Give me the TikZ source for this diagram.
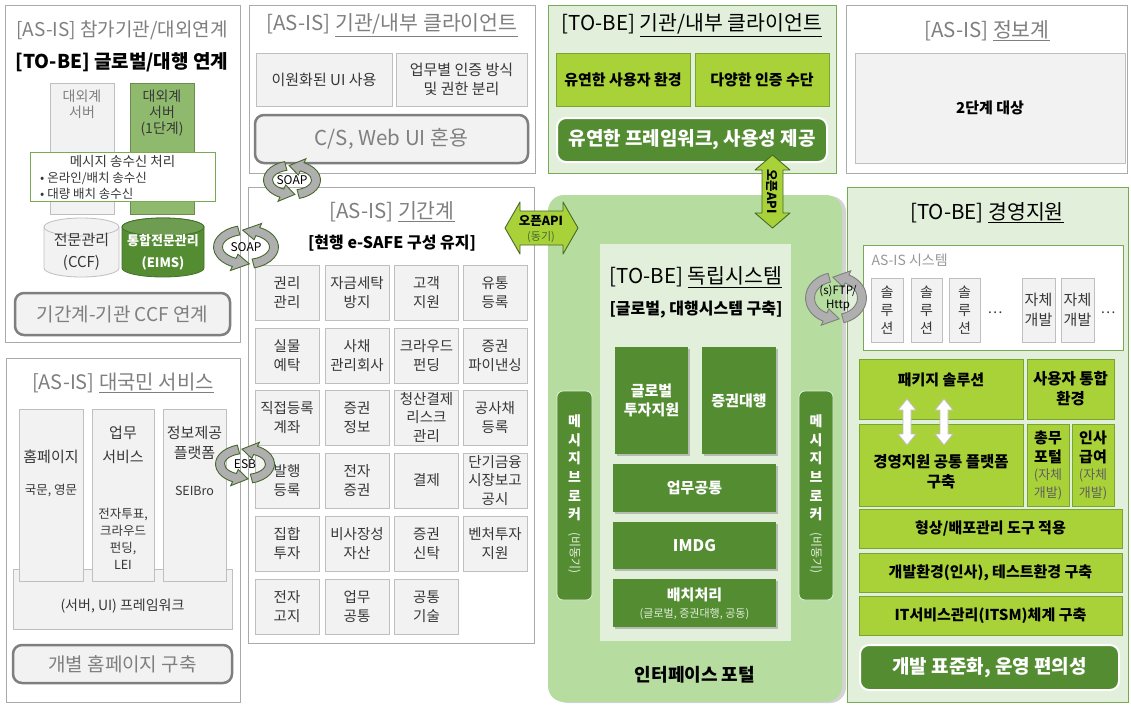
\documentclass[tikz,border=0pt]{standalone}
\usepackage{fontspec}
\setmainfont{Noto Sans CJK KR}
\usetikzlibrary{positioning, shapes.geometric, shadows}
\definecolor{boxgray}{RGB}{242,242,242}
\definecolor{linegray}{RGB}{191,191,191}
\definecolor{panelgray}{RGB}{170,170,170}
\definecolor{titlegray}{RGB}{127,127,127}
\definecolor{textdark}{RGB}{55,55,55}
\definecolor{palegreen}{RGB}{226,239,218}
\definecolor{panelgreen}{RGB}{120,170,85}
\definecolor{lime}{RGB}{169,209,56}
\definecolor{limeline}{RGB}{120,165,50}
\definecolor{darkgreen}{RGB}{84,140,50}
\definecolor{midgreen}{RGB}{143,186,110}
\definecolor{portalgreen}{RGB}{182,220,160}
\definecolor{ringgreen}{RGB}{70,105,45}
\definecolor{ringfill}{RGB}{175,175,175}
\newcommand{\fs}[2]{\fontsize{#1}{#2}\selectfont}
% cycle arrow: center, x radius, y radius, half band, line colour
\newcommand{\ringarrow}[5]{%
  \begin{scope}[shift={#1}]
  \pgfmathsetmacro{\rxo}{#2+#4}\pgfmathsetmacro{\ryo}{#3+#4}
  \pgfmathsetmacro{\rxi}{#2-#4}\pgfmathsetmacro{\ryi}{#3-#4}
  \pgfmathsetmacro{\rxh}{#2+2*#4}\pgfmathsetmacro{\ryh}{#3+2*#4}
  \pgfmathsetmacro{\rxk}{#2-2*#4}\pgfmathsetmacro{\ryk}{#3-2*#4}
  \filldraw[fill=ringfill, draw=#5, line width=0.9pt] (-75:\rxo pt and \ryo pt) arc[start angle=-75, end angle=65, x radius=\rxo pt, y radius=\ryo pt] -- (65:\rxh pt and \ryh pt) -- (97:#2pt and #3pt) -- (65:\rxk pt and \ryk pt) -- (65:\rxi pt and \ryi pt) arc[start angle=65, end angle=-75, x radius=\rxi pt, y radius=\ryi pt] -- cycle;
  \filldraw[fill=ringfill, draw=#5, line width=0.9pt] (105:\rxo pt and \ryo pt) arc[start angle=105, end angle=245, x radius=\rxo pt, y radius=\ryo pt] -- (245:\rxh pt and \ryh pt) -- (277:#2pt and #3pt) -- (245:\rxk pt and \ryk pt) -- (245:\rxi pt and \ryi pt) arc[start angle=245, end angle=105, x radius=\rxi pt, y radius=\ryi pt] -- cycle;
  \end{scope}}
\tikzset{
  panel/.style={draw=panelgray, fill=white, line width=0.9pt},
  greenpanel/.style={draw=panelgreen, fill=palegreen, line width=1pt},
  graybox/.style={draw=linegray, fill=boxgray, line width=0.8pt, align=center, text=textdark, inner sep=0pt},
  cell/.style={graybox, minimum width=64, minimum height=55, font=\fs{14.5}{18.5}},
  limebox/.style={draw=limeline, fill=lime, line width=0.8pt, align=center, inner sep=0pt, font=\bfseries\fs{15}{19}},
  darkbox/.style={fill=darkgreen, text=white, align=center, inner sep=0pt, font=\bfseries\fs{15}{19},
    drop shadow={shadow xshift=2pt, shadow yshift=-2pt, opacity=0.45}},
  roundgray/.style={draw=titlegray, line width=2.5pt, rounded corners=9pt, fill=boxgray, text=titlegray},
  rounddark/.style={draw=white, line width=2pt, rounded corners=9pt, fill=darkgreen, text=white, font=\bfseries\fs{19}{23}},
  grayhead/.style={text=titlegray, font=\fs{20.5}{24}},
  blackhead/.style={text=black, font=\fs{20.5}{24}},
  apiarrow/.style={fill=lime, draw=ringgreen, line width=0.9pt, line join=round},
  whitearrow/.style={fill=white, draw=linegray, line width=0.8pt},
}
\begin{document}
\begin{tikzpicture}[x=1pt,y=-1pt]
\useasboundingbox (0,0) rectangle (1131,704);

% ---- 참가기관/대외연계
\node[panel, minimum width=235, minimum height=337] (pnlext) at (122.5,173.5) {};
\node[grayhead, font=\fs{19}{23}] (extasis) at (122,30) {[AS-IS] 참가기관/대외연계};
\node[blackhead, font=\bfseries\fs{19}{23}] (exttobe) at (122,62) {[TO-BE] 글로벌/대행 연계};
\node[graybox, minimum width=64, minimum height=131] (srvold) at (82,148.5) {};
\node[graybox, fill=midgreen, draw=midgreen!75!black, minimum width=64, minimum height=131] (srvnew) at (162,148.5) {};
\node[align=center, text=titlegray, font=\fs{14}{16}, below=4pt of srvold.north] (srvoldtxt) {대외계\\서버};
\node[align=center, text=textdark, font=\fs{14}{16}, below=4pt of srvnew.north] (srvnewtxt) {대외계\\서버\\(1단계)};
\node[draw=panelgreen, fill=white, line width=0.9pt, minimum width=185, minimum height=49] (msgbox) at (122.5,176.5) {};
\node[text=textdark, font=\fs{13.5}{16}] (msgtitle) at (122.5,161) {메시지 송수신 처리};
\node[text=textdark, align=left, anchor=north west, font=\fs{12.5}{15.5}, inner sep=0pt] (msglist) at (40,172) {• 온라인/배치 송수신\\• 대량 배치 송수신};
% database drums
\node[minimum width=75, minimum height=59] (ccfdb) at (81.5,247.5) {};
\filldraw[fill=boxgray, draw=linegray, line width=0.8pt] (44,227) -- (44,268) arc[start angle=180, end angle=360, x radius=37.5pt, y radius=9pt] -- (119,227) arc[start angle=0, end angle=180, x radius=37.5pt, y radius=9pt] -- cycle;
\draw[linegray, line width=0.8pt] (44,227) arc[start angle=180, end angle=360, x radius=37.5pt, y radius=9pt];
\node[minimum width=82, minimum height=59] (eimsdb) at (163,247.5) {};
\filldraw[fill=darkgreen, draw=darkgreen!80!black, line width=0.8pt] (122,227) -- (122,268) arc[start angle=180, end angle=360, x radius=41pt, y radius=9pt] -- (204,227) arc[start angle=0, end angle=180, x radius=41pt, y radius=9pt] -- cycle;
\filldraw[fill=darkgreen!85!white, draw=darkgreen!80!black, line width=0.8pt] (163,227) ellipse[x radius=41pt, y radius=9pt];
\node[align=center, text=textdark, font=\fs{15}{22}] (ccftxt) at (81.5,252) {전문관리\\(CCF)};
\node[align=center, text=white, font=\bfseries\fs{13}{22}] (eimstxt) at (163,252) {통합전문관리\\(EIMS)};
\node[roundgray, minimum width=215, minimum height=42, font=\fs{19}{23}] (ccflink) at (122.5,314) {기간계-기관 CCF 연계};

% ---- 기관/내부 클라이언트 (AS-IS)
\node[panel, minimum width=286, minimum height=168] (pnlcli) at (392,89) {};
\node[grayhead] (cliasis) at (392,25) {[AS-IS] \underline{기관/내부 클라이언트}};
\node[graybox, minimum width=136, minimum height=53, font=\fs{15}{19}] (dualui) at (324,79.5) {이원화된 UI 사용};
\node[graybox, minimum width=131, minimum height=53, font=\fs{15}{19}] (authsep) at (461.5,79.5) {업무별 인증 방식\\및 권한 분리};
\node[roundgray, minimum width=273, minimum height=48, font=\fs{20.5}{24}] (mixui) at (391.5,139) {C/S, Web UI 혼용};

% ---- 기관/내부 클라이언트 (TO-BE)
\node[greenpanel, minimum width=288, minimum height=168] (pnlclinew) at (692,89) {};
\node[blackhead] (clitobe) at (692,25) {[TO-BE] \underline{기관/내부 클라이언트}};
\node[limebox, minimum width=134, minimum height=53] (flexenv) at (623,79.5) {유연한 사용자 환경};
\node[limebox, minimum width=134, minimum height=53] (multiauth) at (762,79.5) {다양한 인증 수단};
\node[rounddark, minimum width=270, minimum height=44] (flexfw) at (692,140) {유연한 프레임워크, 사용성 제공};

% ---- 정보계
\node[panel, minimum width=281, minimum height=168] (pnlinfo) at (986.5,89) {};
\node[grayhead] (infoasis) at (987,31) {[AS-IS] \underline{정보계}};
\node[graybox, text=black, minimum width=270, minimum height=110, font=\bfseries\fs{15}{19}] (stage2) at (990,108) {2단계 대상};

% ---- 대국민 서비스
\node[panel, minimum width=234, minimum height=344] (pnlpub) at (123,530) {};
\node[grayhead, font=\fs{20}{24}] (pubasis) at (123,383) {[AS-IS] \underline{대국민 서비스}};
\node[graybox, minimum width=219, minimum height=60] (pubfw) at (122.5,599) {};
\node[graybox, minimum width=64, minimum height=172] (homecol) at (51,495) {};
\node[graybox, minimum width=62, minimum height=172] (svccol) at (123,495) {};
\node[graybox, minimum width=63, minimum height=172] (infocol) at (194.5,495) {};
\node[text=textdark, font=\fs{15}{18}] (hometxt) at (51,457) {홈페이지};
\node[text=textdark, font=\fs{12.5}{16}] (homesub) at (51,491) {국문, 영문};
\node[text=textdark, align=center, font=\fs{15}{24}] (svctxt) at (123,445) {업무\\서비스};
\node[text=textdark, align=center, font=\fs{12.5}{17}] (svcsub) at (123,539) {전자투표,\\크라우드\\펀딩,\\LEI};
\node[text=textdark, align=center, font=\fs{15}{20}] (infotxt) at (194.5,443) {정보제공\\플랫폼};
\node[text=textdark, font=\fs{12.5}{16}] (infosub) at (194.5,491) {SEIBro};
\node[text=textdark, font=\fs{14}{18}] (pubfwtxt) at (122.5,606) {(서버, UI) 프레임워크};
\node[roundgray, minimum width=219, minimum height=38, font=\fs{19}{23}] (homebuild) at (122.5,664) {개별 홈페이지 구축};

% ---- 기간계
\node[panel, minimum width=286, minimum height=456] (pnlcore) at (391,415) {};
\node[grayhead] (coreasis) at (392,212) {[AS-IS] \underline{기간계}};
\node[font=\bfseries\fs{16}{20}] (coresub) at (392,243) {[현행 e-SAFE 구성 유지]};
\node[cell] (g11) at (287,292.5) {권리\\관리};
\node[cell] (g12) at (357,292.5) {자금세탁\\방지};
\node[cell] (g13) at (426.5,292.5) {고객\\지원};
\node[cell] (g14) at (495,292.5) {유통\\등록};
\node[cell] (g21) at (287,355.5) {실물\\예탁};
\node[cell] (g22) at (357,355.5) {사채\\관리회사};
\node[cell] (g23) at (426.5,355.5) {크라우드\\펀딩};
\node[cell] (g24) at (495,355.5) {증권\\파이낸싱};
\node[cell] (g31) at (287,417.5) {직접등록\\계좌};
\node[cell] (g32) at (357,417.5) {증권\\정보};
\node[cell] (g33) at (426.5,417.5) {청산결제\\리스크\\관리};
\node[cell] (g34) at (495,417.5) {공사채\\등록};
\node[cell] (g41) at (287,480.5) {발행\\등록};
\node[cell] (g42) at (357,480.5) {전자\\증권};
\node[cell] (g43) at (426.5,480.5) {결제};
\node[cell] (g44) at (495,480.5) {단기금융\\시장보고\\공시};
\node[cell] (g51) at (287,543.5) {집합\\투자};
\node[cell] (g52) at (357,543.5) {비사장성\\자산};
\node[cell] (g53) at (426.5,543.5) {증권\\신탁};
\node[cell] (g54) at (495,543.5) {벤처투자\\지원};
\node[cell] (g61) at (287,606.5) {전자\\고지};
\node[cell] (g62) at (357,606.5) {업무\\공통};
\node[cell] (g63) at (426.5,606.5) {공통\\기술};

% ---- 인터페이스 포털
\node[fill=portalgreen, rounded corners=16pt, minimum width=294, minimum height=507,
  drop shadow={shadow xshift=4pt, shadow yshift=-1pt, opacity=0.35}] (portal) at (695,448.5) {};
\node[fill=palegreen, minimum width=191, minimum height=397] (indep) at (695.5,442.5) {};
\node[blackhead] (indeptobe) at (696,277) {[TO-BE] \underline{독립시스템}};
\node[font=\bfseries\fs{16}{20}] (indepsub) at (696,310) {[글로벌, 대행시스템 구축]};
\node[darkbox, minimum width=73, minimum height=107] (globinv) at (651.5,400.5) {글로벌\\투자지원};
\node[darkbox, minimum width=74, minimum height=107] (agency) at (739,400.5) {증권대행};
\node[darkbox, minimum width=163, minimum height=48] (bizcommon) at (694.5,488) {업무공통};
\node[darkbox, minimum width=163, minimum height=47, font=\bfseries\fs{16}{19}] (imdg) at (694.5,545.5) {IMDG};
\node[darkbox, minimum width=163, minimum height=48] (batch) at (694.5,603) {};
\node[text=white, font=\bfseries\fs{15}{18}] (batchtxt) at (694.5,595) {배치처리};
\node[text=palegreen, font=\fs{11}{13}] (batchsub) at (694.5,614) {(글로벌, 증권대행, 공동)};
\node[fill=darkgreen, draw=palegreen, line width=0.8pt, rounded corners=6pt, minimum width=35, minimum height=209] (brokerl) at (574.5,495.5) {};
\node[fill=darkgreen, draw=palegreen, line width=0.8pt, rounded corners=6pt, minimum width=34, minimum height=209] (brokerr) at (816,495.5) {};
\node[text=white, align=center, font=\bfseries\fs{14}{18.6}] (brokerltxt) at (574.5,468) {메\\시\\지\\브\\로\\커};
\node[text=palegreen, rotate=-90, font=\fs{12}{14}] (brokerlsub) at (574.5,553) {(비동기)};
\node[text=white, align=center, font=\bfseries\fs{14}{18.6}] (brokerrtxt) at (816,468) {메\\시\\지\\브\\로\\커};
\node[text=palegreen, rotate=-90, font=\fs{12}{14}] (brokerrsub) at (816,553) {(비동기)};
\node[font=\bfseries\fs{18}{22}] (portaltxt) at (695,675) {인터페이스 포털};

% ---- 경영지원
\node[greenpanel, minimum width=281, minimum height=515] (pnlmgmt) at (987.5,444.5) {};
\node[blackhead] (mgmttobe) at (987,213) {[TO-BE] \underline{경영지원}};
\node[draw=panelgreen, fill=white, line width=0.9pt, minimum width=260, minimum height=105] (asissys) at (993,297.5) {};
\node[text=linegray!80!black, font=\fs{14}{17}, anchor=west] (asissystxt) at (868,260) {AS-IS 시스템};
\node[graybox, minimum width=32, minimum height=64, font=\fs{14}{18}] (sol1) at (887,310) {솔\\루\\션};
\node[graybox, minimum width=31, minimum height=64, font=\fs{14}{18}] (sol2) at (926.5,310) {솔\\루\\션};
\node[graybox, minimum width=31, minimum height=64, font=\fs{14}{18}] (sol3) at (964.5,310) {솔\\루\\션};
\node[text=textdark, font=\fs{14}{17}] (soldots) at (995,313) {…};
\node[graybox, minimum width=33, minimum height=64, font=\fs{15}{20}] (own1) at (1038.5,310) {자체\\개발};
\node[graybox, minimum width=33, minimum height=64, font=\fs{15}{20}] (own2) at (1077.5,310) {자체\\개발};
\node[text=textdark, font=\fs{14}{17}] (owndots) at (1108,313) {…};
\node[limebox, minimum width=164, minimum height=60] (pkg) at (941,389) {};
\node[font=\bfseries\fs{15}{19}] (pkgtxt) at (941,380) {패키지 솔루션};
\node[limebox, minimum width=87, minimum height=60, font=\bfseries\fs{15.5}{20}] (userenv) at (1070.5,389) {사용자 통합\\환경};
\node[limebox, minimum width=164, minimum height=82] (mgmtplat) at (941,465) {};
\node[align=center, font=\bfseries\fs{15.5}{20}] (mgmtplattxt) at (941,472) {경영지원 공통 플랫폼\\구축};
\node[limebox, minimum width=42, minimum height=82] (genaff) at (1048,465) {};
\node[limebox, minimum width=42, minimum height=82] (hrpay) at (1093,465) {};
\node[align=center, font=\bfseries\fs{15}{18.5}] (genafftxt) at (1048,447.5) {총무\\포털};
\node[align=center, text=textdark!80, font=\fs{13}{18}] (genaffsub) at (1048,484) {(자체\\개발)};
\node[align=center, font=\bfseries\fs{15}{18.5}] (hrpaytxt) at (1093,447.5) {인사\\급여};
\node[align=center, text=textdark!80, font=\fs{13}{18}] (hrpaysub) at (1093,484) {(자체\\개발)};
\node[limebox, minimum width=263, minimum height=39] (deploy) at (990.5,528.5) {형상/배포관리 도구 적용};
\node[limebox, minimum width=263, minimum height=39] (devenv) at (990.5,572.5) {개발환경(인사), 테스트환경 구축};
\node[limebox, minimum width=263, minimum height=39] (itsm) at (990.5,615.5) {IT서비스관리(ITSM)체계 구축};
\node[rounddark, minimum width=259, minimum height=45] (stdops) at (989.5,667.5) {개발 표준화, 운영 편의성};
\draw[whitearrow] (907,399) -- ++(9,11) -- ++(-5,0) -- ++(0,24) -- ++(5,0) -- ++(-9,11) -- ++(-9,-11) -- ++(5,0) -- ++(0,-24) -- ++(-5,0) -- cycle;
\draw[whitearrow] (944,399) -- ++(9,11) -- ++(-5,0) -- ++(0,24) -- ++(5,0) -- ++(-9,11) -- ++(-9,-11) -- ++(5,0) -- ++(0,-24) -- ++(-5,0) -- cycle;

% ---- 연계 화살표
\ringarrow{(292,180)}{24}{14.5}{4.5}{ringgreen}
\node[font=\fs{12}{14}] (soapcli) at (292,180) {SOAP};
\ringarrow{(246,247)}{28}{17}{4.5}{ringgreen}
\node[font=\fs{12}{14}] (soapext) at (246,247) {SOAP};
\ringarrow{(245,464)}{25}{15}{4.5}{ringgreen}
\node[font=\fs{12}{14}] (esb) at (245,464) {ESB};
\ringarrow{(836,298)}{26}{21}{4.5}{titlegray}
\node[align=center, font=\fs{11.5}{14}] (ftp) at (838,298) {(s)FTP/\\Http};
\draw[apiarrow] (505,228) -- ++(15,-26) -- ++(0,9) -- ++(43,0) -- ++(0,-9) -- ++(15,26) -- ++(-15,26) -- ++(0,-9) -- ++(-43,0) -- ++(0,9) -- cycle;
\node[font=\bfseries\fs{12.5}{15}] (apih) at (541,221) {오픈API};
\node[text=ringgreen, font=\fs{11}{13}] (apihsub) at (541,237) {(동기)};
\draw[apiarrow] (772.5,155) -- ++(17.5,15) -- ++(-7,0) -- ++(0,43) -- ++(7,0) -- ++(-17.5,15) -- ++(-17.5,-15) -- ++(7,0) -- ++(0,-43) -- ++(-7,0) -- cycle;
\node[rotate=-90, font=\bfseries\fs{12.5}{15}] (apiv) at (772.5,191.5) {오픈API};
\end{tikzpicture}
\end{document}
